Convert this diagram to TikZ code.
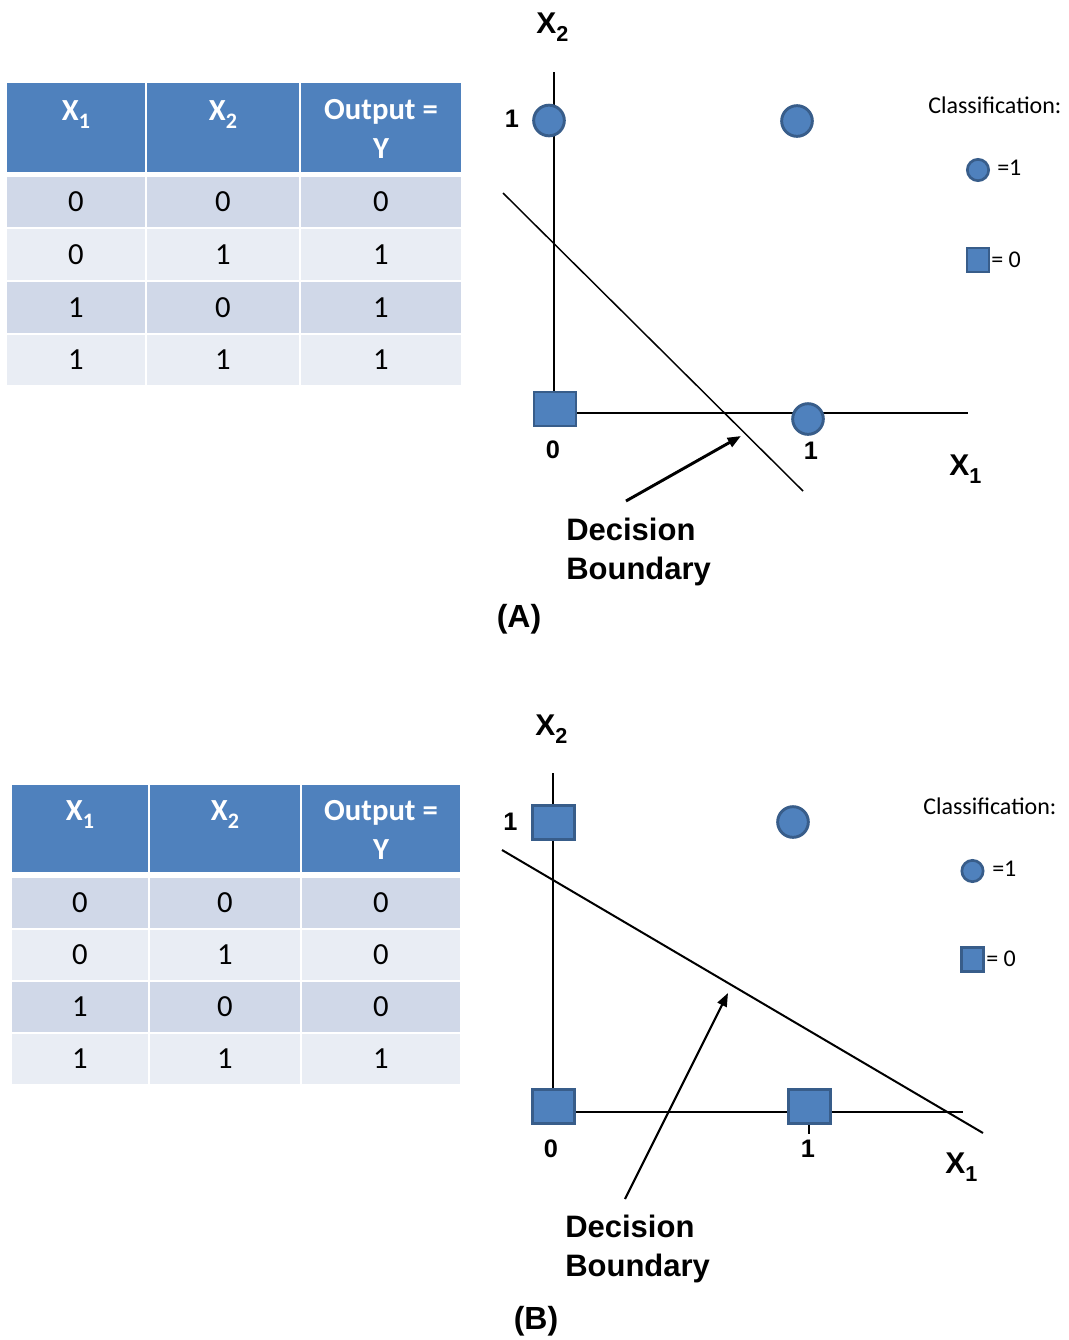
\documentclass[tikz,border=0pt]{standalone}
\usepackage{fontspec}
\usepackage{graphicx}
\setmainfont{Liberation Sans}
\newfontfamily\calfont{Carlito}
\usetikzlibrary{arrows.meta}

\definecolor{hdrblue}{HTML}{4F81BD}
\definecolor{rowdark}{HTML}{D0D8E8}
\definecolor{rowlight}{HTML}{E9EDF4}
\definecolor{markfill}{HTML}{4F81BD}
\definecolor{markline}{HTML}{385D8A}

% lowered, smaller index after a letter (X_1, X_2)
\newcommand\lowidx[1]{\raisebox{-0.28em}{\scalebox{0.72}{#1}}}

% table cell: name, left, top, right, bottom, fill, text
\newcommand\tcell[7]{%
  \node[cellbg,fill=#6,minimum width={(#4-#2)*0.75pt},minimum height={(#5-#3)*0.75pt}]
    (#1) at ({(#2+#4)/2},{(#3+#5)/2}) {#7};}

\begin{document}
\begin{tikzpicture}[x=0.75pt,y=-0.75pt,
  cellbg/.style={rectangle,inner sep=0pt,outer sep=0pt,draw=none,
    font=\calfont\fontsize{23}{28}\selectfont,text=black},
  headtext/.style={font=\calfont\bfseries\fontsize{23}{29}\selectfont,
    text=white,inner sep=0pt,align=center},
  dotmark/.style={circle,fill=markfill,draw=markline,line width=2.2pt,
    minimum size=23pt,inner sep=0pt},
  sqmark/.style={rectangle,fill=markfill,draw=markline,line width=2.2pt,
    minimum width=31.5pt,minimum height=25.5pt,inner sep=0pt},
  keydot/.style={dotmark,minimum size=16pt,line width=2pt},
  keysq/.style={sqmark,minimum width=16.5pt,minimum height=18pt,line width=2pt},
  ticklabel/.style={font=\bfseries\fontsize{19}{22}\selectfont,inner sep=0pt},
  axislabel/.style={font=\bfseries\fontsize{22.5}{27}\selectfont,inner sep=0pt},
  keytext/.style={font=\calfont\fontsize{18}{22}\selectfont,inner sep=0pt},
  bndnote/.style={font=\bfseries\fontsize{23.25}{29.25}\selectfont,align=left,inner sep=0pt},
  paneltag/.style={font=\bfseries\fontsize{24}{28}\selectfont,inner sep=0pt},
  axisthin/.style={draw=black,line width=1.1pt},
  axisthick/.style={draw=black,line width=1.5pt},
  pointer/.style={draw=black,-{Triangle[length=10pt,width=7.5pt]}},
]
\useasboundingbox[fill=white] (0,0) rectangle (1069,1340);

%% ---------------- (A) OR table ----------------
\tcell{A-h1}{7}{83}{145}{172}{hdrblue}{}
\tcell{A-h2}{147}{83}{299}{172}{hdrblue}{}
\tcell{A-h3}{301}{83}{461}{172}{hdrblue}{}
\node[headtext,anchor=base] (A-h1-text) at (76,120) {X\lowidx{1}};
\node[headtext,anchor=base] (A-h2-text) at (223,120) {X\lowidx{2}};
\node[headtext,anchor=north] (A-h3-text) at (381,99.5) {Output =\\Y};
\foreach \n/\rt/\rb/\rs/\va/\vb/\vc in
  {1/177/227/rowdark/0/0/0, 2/229/280/rowlight/0/1/1,
   3/282/333/rowdark/1/0/1, 4/335/385/rowlight/1/1/1}{
  \tcell{A-r\n-c1}{7}{\rt}{145}{\rb}{\rs}{\va}
  \tcell{A-r\n-c2}{147}{\rt}{299}{\rb}{\rs}{\vb}
  \tcell{A-r\n-c3}{301}{\rt}{461}{\rb}{\rs}{\vc}
}

%% ---------------- (A) plot ----------------
\coordinate (A-ytop) at (554,72);
\coordinate (A-origin) at (554,413);
\coordinate (A-xend) at (968,413);
\draw[axisthin] (A-ytop) -- (A-origin) -- (A-xend);
\coordinate (A-bnd1) at (503,193);
\coordinate (A-bnd2) at (803,491);
\draw[axisthin] (A-bnd1) -- (A-bnd2);

\node[sqmark] (A-p00) at (555,409) {};
\node[dotmark] (A-p01) at (549,120.5) {};
\node[dotmark] (A-p11) at (797,121) {};
\node[dotmark] (A-p10) at (808,419) {};

\node[ticklabel] (A-ly1) at (512,119) {1};
\node[ticklabel] (A-lx0) at (553,450) {0};
\node[ticklabel] (A-lx1) at (811,451) {1};
\node[axislabel,anchor=base west] (A-x1) at (949,475) {X\lowidx{1}};
\node[axislabel,anchor=base west] (A-x2) at (536,33) {X\lowidx{2}};

\node[keytext,anchor=west] (A-keytitle) at (928,105) {Classification:};
\node[keydot] (A-keydot) at (978,170) {};
\node[keytext,anchor=west] (A-keyone) at (997,168) {=1};
\node[keysq] (A-keysq) at (978,260) {};
\node[keytext,anchor=west] (A-keyzero) at (991,260) {= 0};

\node[bndnote,anchor=north west] (A-note) at (566,518) {Decision\\Boundary};
\coordinate (A-ptail) at (626,501);
\coordinate (A-ptip) at (741,436);
\draw[pointer,line width=2.2pt] (A-ptail) -- (A-ptip);
\node[paneltag] (A-tag) at (519,619) {(A)};

%% ---------------- (B) AND table ----------------
\tcell{B-h1}{12}{785}{148}{872}{hdrblue}{}
\tcell{B-h2}{150}{785}{300}{872}{hdrblue}{}
\tcell{B-h3}{302}{785}{460}{872}{hdrblue}{}
\node[headtext,anchor=base] (B-h1-text) at (80,820) {X\lowidx{1}};
\node[headtext,anchor=base] (B-h2-text) at (225,820) {X\lowidx{2}};
\node[headtext,anchor=north] (B-h3-text) at (381,800) {Output =\\Y};
\foreach \n/\rt/\rb/\rs/\va/\vb/\vc in
  {1/878/928/rowdark/0/0/0, 2/930/980/rowlight/0/1/0,
   3/982/1032/rowdark/1/0/0, 4/1034/1084/rowlight/1/1/1}{
  \tcell{B-r\n-c1}{12}{\rt}{148}{\rb}{\rs}{\va}
  \tcell{B-r\n-c2}{150}{\rt}{300}{\rb}{\rs}{\vb}
  \tcell{B-r\n-c3}{302}{\rt}{460}{\rb}{\rs}{\vc}
}

%% ---------------- (B) plot ----------------
\coordinate (B-ytop) at (553,773);
\coordinate (B-origin) at (553,1112);
\coordinate (B-xend) at (963,1112);
\draw[axisthick] (B-ytop) -- (B-origin) -- (B-xend);
\coordinate (B-tick1) at (809,1124);
\coordinate (B-tick2) at (809,1134);
\draw[axisthick] (B-tick1) -- (B-tick2);
\coordinate (B-bnd1) at (502,850);
\coordinate (B-bnd2) at (983,1133);
\draw[axisthick] (B-bnd1) -- (B-bnd2);

\node[sqmark] (B-p00) at (553.5,1106.5) {};
\node[sqmark] (B-p01) at (553.5,822.5) {};
\node[sqmark] (B-p10) at (809.5,1106.5) {};
\node[dotmark] (B-p11) at (793,822) {};

\node[ticklabel] (B-ly1) at (510.5,821.5) {1};
\node[ticklabel] (B-lx0) at (551,1149) {0};
\node[ticklabel] (B-lx1) at (808,1149) {1};
\node[axislabel,anchor=base west] (B-x1) at (945,1173) {X\lowidx{1}};
\node[axislabel,anchor=base west] (B-x2) at (535,735) {X\lowidx{2}};

\node[keytext,anchor=west] (B-keytitle) at (923,806) {Classification:};
\node[keydot] (B-keydot) at (972.5,871) {};
\node[keytext,anchor=west] (B-keyone) at (992,869) {=1};
\node[keysq] (B-keysq) at (972.5,959.5) {};
\node[keytext,anchor=west] (B-keyzero) at (986,959) {= 0};

\node[bndnote,anchor=north west] (B-note) at (565,1215) {Decision\\Boundary};
\coordinate (B-ptail) at (625,1199);
\coordinate (B-ptip) at (728,993);
\draw[pointer,line width=1.6pt] (B-ptail) -- (B-ptip);
\node[paneltag] (B-tag) at (536,1321) {(B)};
\end{tikzpicture}
\end{document}
